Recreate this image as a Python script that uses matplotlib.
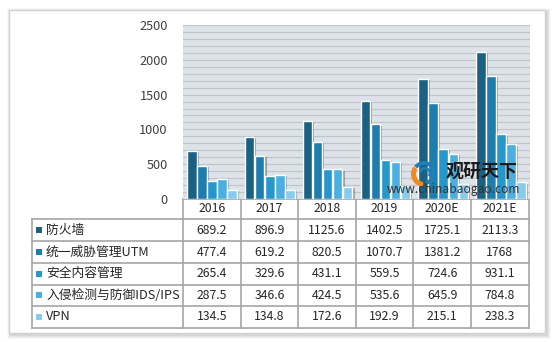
import numpy as np
import matplotlib.pyplot as plt
from matplotlib.patches import Rectangle, Wedge
import matplotlib.patheffects as pe

plt.rcParams['font.family'] = ['Noto Sans CJK SC', 'DejaVu Sans']

# dati
years = ["2016", "2017", "2018", "2019", "2020E", "2021E"]
series_names = ["防火墙", "统一威胁管理UTM", "安全内容管理", "入侵检测与防御IDS/IPS", "VPN"]
firewall = [689.2, 896.9, 1125.6, 1402.5, 1725.1, 2113.3]
utm = [477.4, 619.2, 820.5, 1070.7, 1381.2, 1768]
content_mgmt = [265.4, 329.6, 431.1, 559.5, 724.6, 931.1]
ids_ips = [287.5, 346.6, 424.5, 535.6, 645.9, 784.8]
vpn = [134.5, 134.8, 172.6, 192.9, 215.1, 238.3]
values = [firewall, utm, content_mgmt, ids_ips, vpn]
value_labels = [["689.2", "896.9", "1125.6", "1402.5", "1725.1", "2113.3"],
                ["477.4", "619.2", "820.5", "1070.7", "1381.2", "1768"],
                ["265.4", "329.6", "431.1", "559.5", "724.6", "931.1"],
                ["287.5", "346.6", "424.5", "535.6", "645.9", "784.8"],
                ["134.5", "134.8", "172.6", "192.9", "215.1", "238.3"]]
colors = ["#1b6184", "#1f7dae", "#2597cb", "#4bb0e0", "#88ccec"]

W, H = 555, 342
fig = plt.figure(figsize=(W / 100, H / 100), dpi=100)
fig.patch.set_facecolor("white")

# sfondo: ombra + pannello bianco + tabella
bg = fig.add_axes([0, 0, 1, 1], zorder=0)
bg.set_xlim(0, W)
bg.set_ylim(H, 0)
bg.axis("off")
for k, a in enumerate([0.05, 0.07, 0.09, 0.12]):
    d = 4 - k
    bg.add_patch(Rectangle((9 - d + 2, 10 - d + 2), 536 + 2 * d, 323 + 2 * d,
                           facecolor="#808080", alpha=a, edgecolor="none"))
bg.add_patch(Rectangle((9, 10), 536, 323, facecolor="white", edgecolor="#d0d0d0", lw=1))

col_x = 183
col_w = 57.6
tab_left = 32
row_edges = [199, 219, 241, 263, 284.5, 306, 327.5]
line_kw = dict(color="#a6a6a6", lw=1.2)

# righe orizzontali
bg.plot([col_x, col_x + 6 * col_w], [row_edges[0]] * 2, **line_kw)
for y in row_edges[1:]:
    bg.plot([tab_left, col_x + 6 * col_w], [y, y], **line_kw)
# verticali
bg.plot([tab_left, tab_left], [row_edges[1], row_edges[-1]], **line_kw)
for j in range(7):
    x = col_x + j * col_w
    bg.plot([x, x], [row_edges[0], row_edges[-1]], **line_kw)

for j, yr in enumerate(years):
    bg.text(col_x + (j + 0.5) * col_w, (row_edges[0] + row_edges[1]) / 2, yr,
            ha="center", va="center", fontsize=8.8, color="#262626")
for i, name in enumerate(series_names):
    yc = (row_edges[i + 1] + row_edges[i + 2]) / 2
    bg.add_patch(Rectangle((36, yc - 3), 6, 6, facecolor=colors[i], edgecolor="none"))
    bg.text(46, yc, name, ha="left", va="center", fontsize=9.2, color="#262626")
    for j in range(6):
        bg.text(col_x + (j + 0.5) * col_w, yc, value_labels[i][j],
                ha="center", va="center", fontsize=8.8, color="#262626")

# grafico a barre
ax = fig.add_axes([183 / W, 1 - 199 / H, 347 / W, 174 / H], zorder=1)
ax.set_facecolor("#dde3e9")
x = np.arange(len(years)) + 0.5
bw = 0.165
shadow = [pe.SimplePatchShadow(offset=(1.5, -1.0), alpha=0.35), pe.Normal()]
for i, vals in enumerate(values):
    bars = ax.bar(x + (i - 2) * 0.174, vals, width=bw, color=colors[i],
                  edgecolor="white", lw=1.0, zorder=3)
    for b in bars:
        b.set_path_effects(shadow)
ax.set_xlim(0, 6)
ax.set_ylim(0, 2500)
ax.set_yticks(np.arange(0, 2501, 500))
ax.set_yticks(np.arange(0, 2501, 100), minor=True)
ax.grid(axis="y", which="both", color="#bfc5ca", lw=0.9, zorder=0)
ax.set_xticks([])
ax.tick_params(axis="y", which="both", length=0, pad=11, labelsize=9.2, labelcolor="#404040")
for s in ax.spines.values():
    s.set_visible(False)

# marchio
wm = fig.add_axes([0, 0, 1, 1], zorder=2)
wm.set_xlim(0, W)
wm.set_ylim(H, 0)
wm.axis("off")
wm.patch.set_alpha(0)
wm.add_patch(Wedge((424, 174), 13, 95, 215, width=5, facecolor="#f08a1c", edgecolor="none"))
wm.add_patch(Wedge((424, 173), 12, 215, 440, width=4, facecolor="#1f7fb8", edgecolor="none"))
wm.add_patch(Wedge((425, 173), 6, 180, 400, width=2.5, facecolor="#1f7fb8", edgecolor="none"))
wm.text(518, 171.5, "观研天下", ha="right", va="center",
        fontsize=13, fontweight="bold", color="#1a1a1a")
wm.text(520, 189.5, "www.chinabaogao.com", ha="right", va="center",
        fontsize=8.6, color="#333333")

fig.savefig("out.png", dpi=100)
